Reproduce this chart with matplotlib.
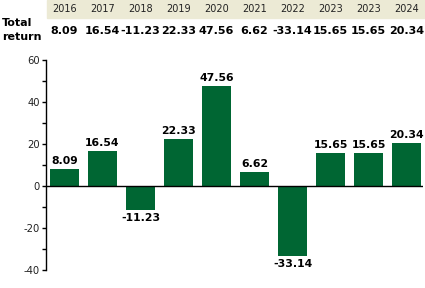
import matplotlib
matplotlib.use('Agg')
import matplotlib.pyplot as plt
import matplotlib.transforms as mtransforms
from matplotlib.patches import Rectangle

years = ['2016', '2017', '2018', '2019', '2020', '2021', '2022', '2023', '2023', '2024']
total_return = [8.09, 16.54, -11.23, 22.33, 47.56, 6.62, -33.14, 15.65, 15.65, 20.34]

plt.rcParams['font.family'] = 'DejaVu Sans'
plt.rcParams['axes.unicode_minus'] = False

W, H = 425, 288
fig = plt.figure(figsize=(W / 100, H / 100), dpi=100)

# plot area in pixels: x 46..423, y 60..270
ax = fig.add_axes([46 / W, (H - 270) / H, (423 - 46) / W, (270 - 60) / H])
x = list(range(len(years)))
ax.bar(x, total_return, width=0.76, color='#006633')
ax.set_xlim(-0.487, 9.43)
ax.set_ylim(-40, 60)
ax.axhline(0, color='black', lw=1)

for s in ['top', 'right', 'bottom']:
    ax.spines[s].set_visible(False)
ax.spines['left'].set_linewidth(1)
ax.set_xticks([])
ax.set_yticks([-40, -20, 0, 20, 40, 60])
ax.set_yticks([-30, -10, 10, 30, 50], minor=True)
ax.tick_params(axis='y', which='both', direction='out', length=3, width=1,
               labelsize=7.2, pad=1.5, labelcolor='#222222')

for xi, v in zip(x, total_return):
    if v >= 0:
        ax.annotate(f'{v:.2f}', (xi, v), xytext=(0, 2.5), textcoords='offset points',
                    ha='center', va='bottom', fontsize=7.8, fontweight='bold')
    else:
        ax.annotate(f'{v:.2f}', (xi, v), xytext=(0, -2.5), textcoords='offset points',
                    ha='center', va='top', fontsize=7.8, fontweight='bold')

# header table
fig.patches.append(Rectangle((47 / W, 1 - 18 / H), 1 - 47 / W, 18 / H,
                             transform=fig.transFigure, color='#ecead5', zorder=0))
trans = mtransforms.blended_transform_factory(ax.transData, fig.transFigure)
for xi, yr, v in zip(x, years, total_return):
    fig.text(xi, 1 - 9 / H, yr, transform=trans, ha='center', va='center',
             fontsize=7, color='#222222')
    fig.text(xi, 1 - 31 / H, f'{v:.2f}', transform=trans, ha='center', va='center',
             fontsize=8, fontweight='bold')
fig.text(2 / W, 1 - 30 / H, 'Total\nreturn', ha='left', va='center', fontsize=8,
         fontweight='bold', linespacing=1.45)

fig.savefig('out.png', dpi=100)
